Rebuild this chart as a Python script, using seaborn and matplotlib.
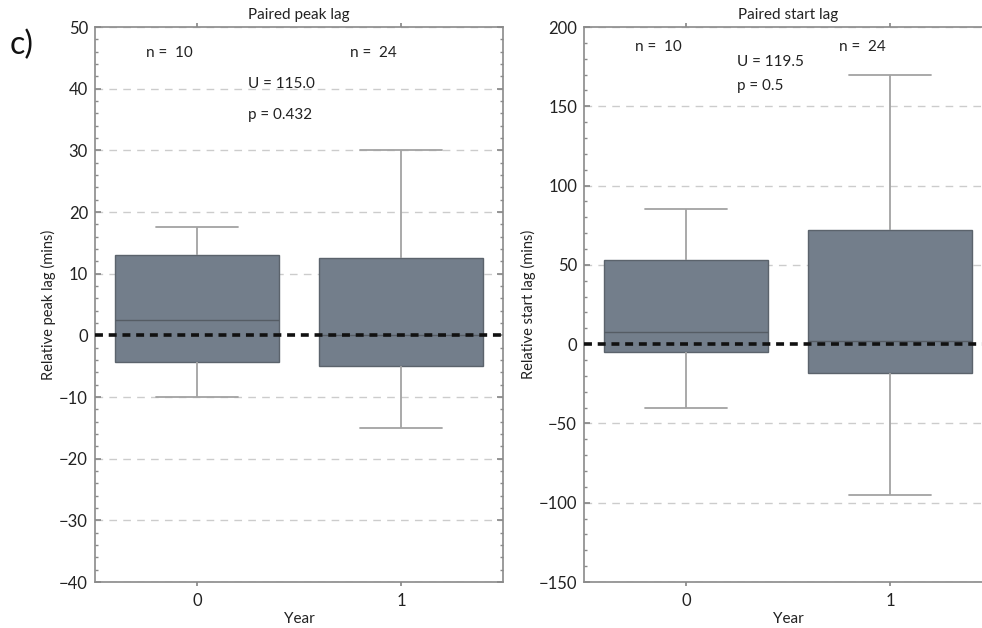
import matplotlib
matplotlib.use("Agg")
import matplotlib.pyplot as plt
from matplotlib.ticker import AutoMinorLocator, MultipleLocator
import numpy as np
import pandas as pd
import seaborn as sns

# Five-number summaries (min, Q1, median, Q3, max) per year
years = ["0", "1"]
peak_year0 = [-10.0, -4.4, 2.5, 13.1, 17.5]
peak_year1 = [-15.0, -5.0, 0.0, 12.5, 30.0]
start_year0 = [-40.0, -5.0, 7.5, 53.0, 85.0]
start_year1 = [-95.0, -18.0, 2.0, 72.0, 170.0]

n_counts = [10, 24]
peak_stats = ["U = 115.0", "p = 0.432"]
start_stats = ["U = 119.5", "p = 0.5"]

sns.set_theme(style="white")
plt.rcParams["font.family"] = ["Lato", "DejaVu Sans"]
plt.rcParams["font.size"] = 11

peak_df = pd.DataFrame({
    "Year": [years[0]] * len(peak_year0) + [years[1]] * len(peak_year1),
    "lag": peak_year0 + peak_year1,
})
start_df = pd.DataFrame({
    "Year": [years[0]] * len(start_year0) + [years[1]] * len(start_year1),
    "lag": start_year0 + start_year1,
})

fig = plt.figure(figsize=(9.82, 6.28), dpi=100)
ax1 = fig.add_axes([0.0967, 0.0732, 0.4155, 0.8838])
ax2 = fig.add_axes([0.5947, 0.0732, 0.4155, 0.8838])

box_fill = "#737e8b"
box_kws = dict(
    x="Year", y="lag", order=years, color=box_fill, saturation=1,
    width=0.8, whis=(0, 100), showfliers=False,
    boxprops=dict(edgecolor="#5b636c", linewidth=1.0),
    medianprops=dict(color="#555c64", linewidth=1.0),
    whiskerprops=dict(color="#a3a3a3", linewidth=1.3),
    capprops=dict(color="#a3a3a3", linewidth=1.3),
)

text_color = "#222222"


def style_axes(ax, ylim, major, title, ylabel, stats, n_y, u_y, p_y):
    ax.set_ylim(*ylim)
    ax.set_xlim(-0.5, 1.5)
    ax.yaxis.set_major_locator(MultipleLocator(major))
    ax.yaxis.set_minor_locator(AutoMinorLocator(5))
    ax.grid(False)
    for val in np.arange(ylim[0], ylim[1] + major / 2, major):
        if val == 0:
            continue
        ax.axhline(val, color="#cccccc", linewidth=1.0, dashes=(5.5, 4.5), zorder=0)
    ax.axhline(0, color="#111111", linewidth=2.6, dashes=(2.2, 1.6), zorder=5)
    for sp in ax.spines.values():
        sp.set_color("#8a8a8a")
        sp.set_linewidth(1.2)
        sp.set_visible(True)
    ax.tick_params(axis="y", which="major", direction="in", length=4, color="#8a8a8a",
                   labelsize=12, labelcolor=text_color, right=True, left=True, pad=5)
    ax.tick_params(axis="y", which="minor", direction="in", length=2.5, color="#8a8a8a",
                   right=True, left=True)
    ax.tick_params(axis="x", which="major", direction="out", length=3, color="#8a8a8a",
                   labelsize=12, labelcolor=text_color, top=True, bottom=True, pad=5)
    ax.set_title(title, fontsize=11, color=text_color, pad=6)
    ax.set_ylabel(ylabel, fontsize=10.5, color=text_color, labelpad=2)
    ax.set_xlabel("Year", fontsize=11, color=text_color, labelpad=2)
    for i, n in enumerate(n_counts):
        ax.text(i - 0.25, n_y, f"n =  {n}", ha="left", va="center", fontsize=11,
                color=text_color)
    ax.text(0.25, u_y, stats[0], ha="left", va="center", fontsize=11, color=text_color)
    ax.text(0.25, p_y, stats[1], ha="left", va="center", fontsize=11, color=text_color)


sns.boxplot(data=peak_df, ax=ax1, **box_kws)
sns.boxplot(data=start_df, ax=ax2, **box_kws)

style_axes(ax1, (-40, 50), 10, "Paired peak lag", "Relative peak lag (mins)",
           peak_stats, 45.8, 40.8, 35.7)
style_axes(ax2, (-150, 200), 50, "Paired start lag", "Relative start lag (mins)",
           start_stats, 187.6, 177.7, 162.8)

fig.text(0.010, 0.928, "c)", fontsize=23, color="#111111", ha="left", va="center")

fig.savefig("out.png", dpi=100)
